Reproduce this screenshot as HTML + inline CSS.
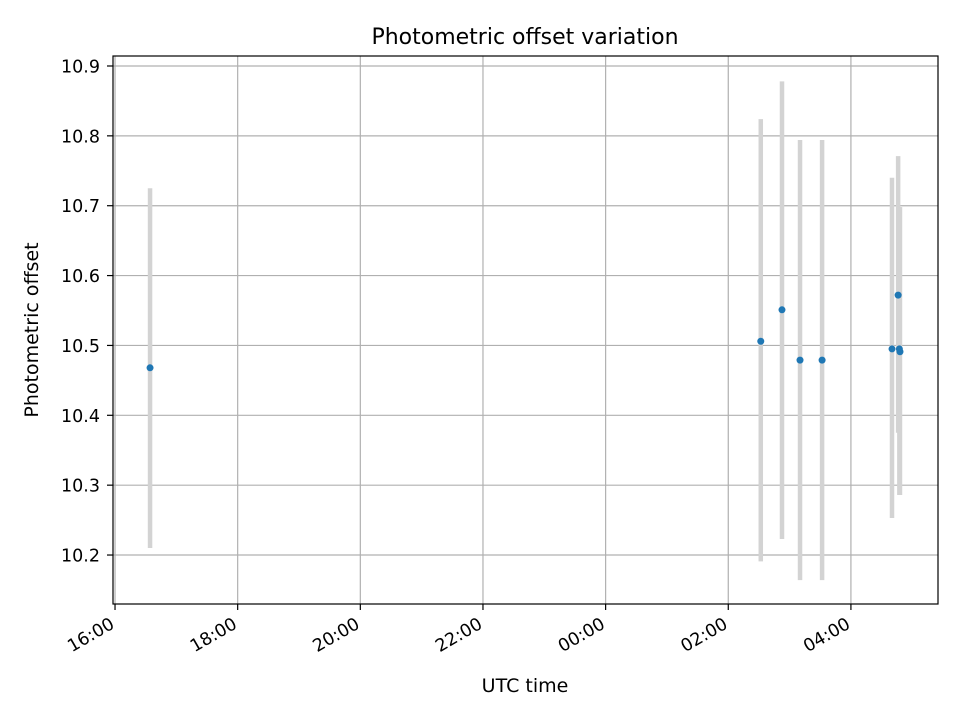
<!DOCTYPE html>
<html><head><meta charset="utf-8"><style>
body{margin:0;background:#fff}
svg text{font-family:"DejaVu Sans","Liberation Sans",sans-serif}
</style></head><body>
<svg id="c" width="960" height="720" xmlns="http://www.w3.org/2000/svg">
<text x="525" y="44" text-anchor="middle" font-size="22">Photometric offset variation</text>
<text x="525" y="692" text-anchor="middle" font-size="19">UTC time</text>
<text transform="translate(38,330) rotate(-90)" text-anchor="middle" font-size="19">Photometric offset</text>
<g id="grid"></g><g id="bars"></g><g id="pts"></g><g id="axes"></g>
</svg>
<script>
const hours = [0.571, 10.53, 10.876, 11.17, 11.53, 12.67, 12.77, 12.80, 12.79];
const offsets = [10.468, 10.506, 10.551, 10.479, 10.479, 10.495, 10.572, 10.491, 10.495];
const lows = [10.210, 10.191, 10.223, 10.164, 10.164, 10.253, 10.375, 10.286, 10.286];
const highs = [10.725, 10.824, 10.878, 10.794, 10.794, 10.740, 10.771, 10.698, 10.698];
const xTickHours = [0, 2, 4, 6, 8, 10, 12];
const xTickLabels = ["16:00","18:00","20:00","22:00","00:00","02:00","04:00"];
const yTicks = [10.2, 10.3, 10.4, 10.5, 10.6, 10.7, 10.8, 10.9];

const L=113,R=938,T=56,B=604;
const xMin=-0.033,xMax=13.42,yMin=10.1299,yMax=10.9143;
const X=h=>L+(h-xMin)/(xMax-xMin)*(R-L);
const Y=v=>B-(v-yMin)/(yMax-yMin)*(B-T);
const NS="http://www.w3.org/2000/svg";
function mk(tag,attrs,parent){const e=document.createElementNS(NS,tag);for(const k in attrs)e.setAttribute(k,attrs[k]);document.getElementById(parent).appendChild(e);return e;}
xTickHours.forEach((h,i)=>{
  const x=X(h);
  const g=mk('line',{x1:x,x2:x,y1:T,y2:B,stroke:'#b0b0b0','stroke-width':1.2},'grid');
  
  
  const t=mk('line',{x1:x,x2:x,y1:B,y2:B+6,stroke:'#000','stroke-width':1.2},'axes');
  
  
  const lb=mk('text',{transform:`translate(${x-6},${B+12}) rotate(-30)`,'text-anchor':'end','font-size':17.5,y:13},'axes');
  lb.textContent=xTickLabels[i];
  
  
});
yTicks.forEach(v=>{
  const y=Y(v);
  const g=mk('line',{x1:L,x2:R,y1:y,y2:y,stroke:'#b0b0b0','stroke-width':1.2},'grid');
  
  
  const t=mk('line',{x1:L-6,x2:L,y1:y,y2:y,stroke:'#000','stroke-width':1.2},'axes');
  
  
  const lb=mk('text',{x:L-13,y:y+6.5,'text-anchor':'end','font-size':17.5},'axes');
  lb.textContent=v.toFixed(1);
  
  
});
hours.forEach((h,i)=>{
  const x=X(h);
  const b=mk('line',{x1:x,x2:x,y1:Y(lows[i]),y2:Y(highs[i]),stroke:'#d3d3d3','stroke-width':4.5},'bars');
  
  
});
hours.forEach((h,i)=>{
  const p=mk('circle',{cx:X(hours[i]),cy:Y(offsets[i]),r:3.5,fill:'#1f77b4'},'pts');
  
  
});
const f=mk('rect',{x:L,y:T,width:R-L,height:B-T,fill:'none',stroke:'#000','stroke-width':1.2},'axes');


</script>
</body></html>
